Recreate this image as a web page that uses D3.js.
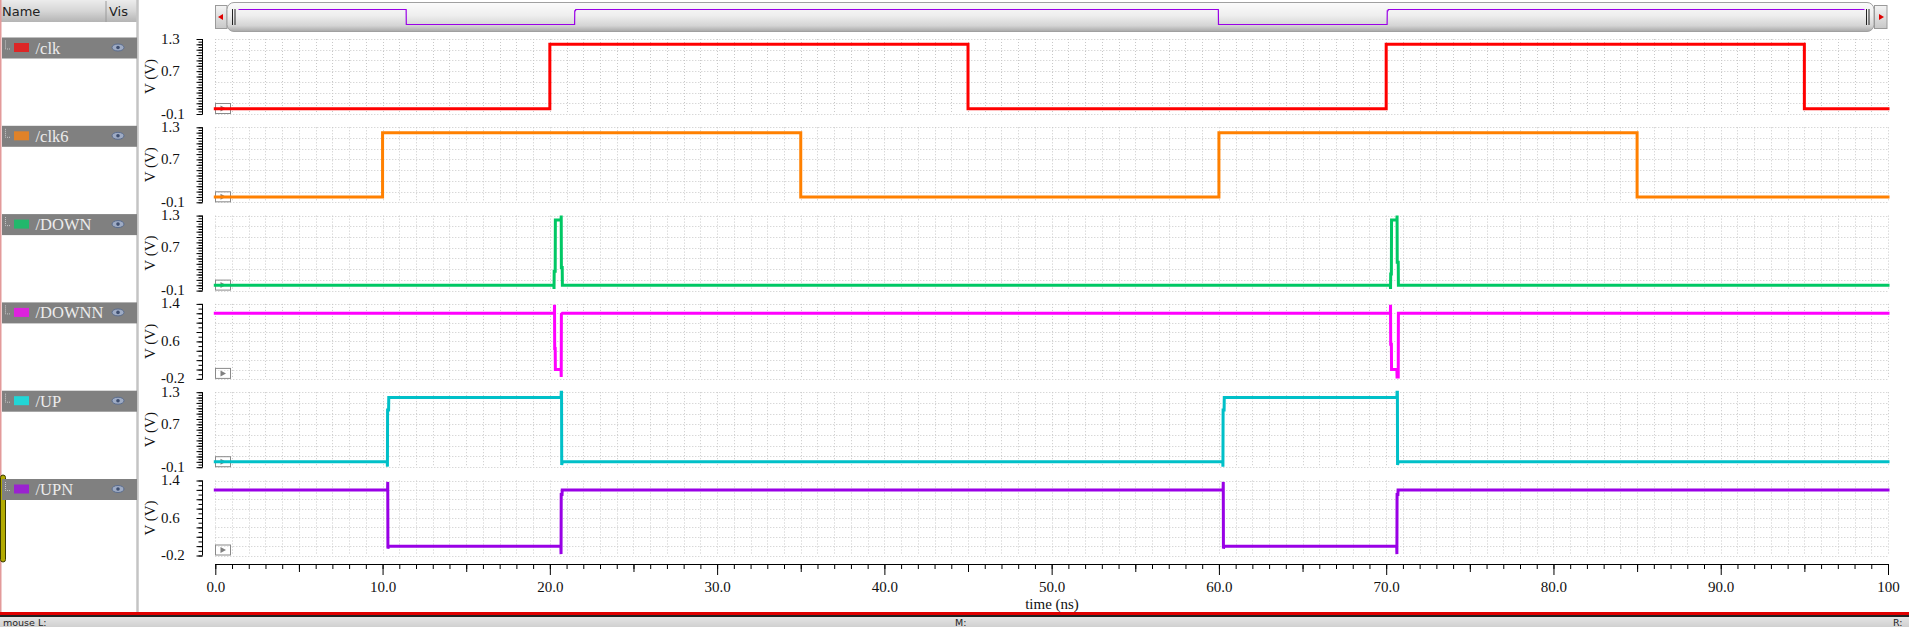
<!DOCTYPE html>
<html><head><meta charset="utf-8">
<script src="https://cdn.jsdelivr.net/npm/d3@7"></script>
<style>html,body{margin:0;padding:0;background:#fff;overflow:hidden}</style>
</head><body>
<svg id="c" width="1909" height="627"></svg>
<script>
// ---------- data ----------
const signalNames = ["/clk", "/clk6", "/DOWN", "/DOWNN", "/UP", "/UPN"];
const lineColors = ["#ff0000", "#ff8000", "#00c864", "#ff00ff", "#00c0c8", "#9900e6"];
const swatchColors = ["#dd2626", "#e08228", "#22b86c", "#dd22dd", "#22d6d6", "#9a22d0"];
const yDomains = [[-0.1, 1.3], [-0.1, 1.3], [-0.1, 1.3], [-0.2, 1.4], [-0.1, 1.3], [-0.2, 1.4]];
const yTickLabels = [[-0.1, 0.7, 1.3], [-0.1, 0.7, 1.3], [-0.1, 0.7, 1.3], [-0.2, 0.6, 1.4], [-0.1, 0.7, 1.3], [-0.2, 0.6, 1.4]];
const timeTicks = [0, 10, 20, 30, 40, 50, 60, 70, 80, 90, 100];
const timeTickLabels = ["0.0", "10.0", "20.0", "30.0", "40.0", "50.0", "60.0", "70.0", "80.0", "90.0", "100"];
const timeDomain = [0, 100];

const clk = [[0,0],[20,0],[20,1.2],[45,1.2],[45,0],[70,0],[70,1.2],[95,1.2],[95,0],[100,0]];
const clk6 = [[0,0],[10,0],[10,1.2],[35,1.2],[35,0],[60,0],[60,1.2],[85,1.2],[85,0],[100,0]];
const down = [[0,0],[20.24,0],[20.25,-0.07],[20.26,0.26],[20.32,0.26],[20.33,1.22],[20.67,1.22],[20.68,1.3],[20.69,0.33],[20.74,0.33],[20.75,0],
              [70.25,0],[70.26,-0.07],[70.27,0.21],[70.31,0.21],[70.32,1.22],[70.64,1.22],[70.65,1.3],[70.66,0.43],[70.72,0.43],[70.73,0],[100,0]];
const downn = [[0,1.2],[20.27,1.2],[20.28,1.38],[20.29,0.45],[20.32,0.45],[20.33,0],[20.67,0],[20.68,-0.16],[20.69,1.18],[20.75,1.2],
               [70.25,1.2],[70.26,1.38],[70.27,0.54],[70.31,0.54],[70.32,0],[70.64,0],[70.65,-0.16],[70.72,-0.16],[70.73,1.2],[100,1.2]];
const up = [[0,0],[10.28,0],[10.29,-0.09],[10.3,0.97],[10.36,0.97],[10.37,1.2],[20.67,1.2],[20.68,1.3],[20.7,1.3],[20.71,-0.06],[20.75,0],
            [60.23,0],[60.24,-0.09],[60.25,0.97],[60.31,0.97],[60.32,1.2],[70.64,1.2],[70.65,1.3],[70.67,1.3],[70.68,-0.06],[70.72,0],[100,0]];
const upn = [[0,1.2],[10.3,1.2],[10.31,1.37],[10.32,-0.05],[10.36,0],[20.66,0],[20.67,-0.17],[20.68,1.1],[20.73,1.1],[20.74,1.2],
             [60.25,1.2],[60.26,1.37],[60.27,-0.05],[60.31,0],[70.63,0],[70.64,-0.17],[70.65,1.1],[70.7,1.1],[70.71,1.2],[100,1.2]];
const series = [clk, clk6, down, downn, up, upn];

// ---------- layout ----------
const svg = d3.select("#c");
const W = 1909, H = 627;
const plotL = 215.3, plotR = 1888;
const panelTop0 = 39, panelPitch = 88.3, panelH = 75;
const xAxisY = 564;
const serif = "'Liberation Serif','DejaVu Serif',serif";
const sans = "'DejaVu Sans','Liberation Sans',sans-serif";

const defs = svg.append("defs");
function grad(id, stops) {
  const g = defs.append("linearGradient").attr("id", id).attr("x1", 0).attr("y1", 0).attr("x2", 0).attr("y2", 1);
  stops.forEach(([o, c]) => g.append("stop").attr("offset", o).attr("stop-color", c));
}
grad("hdr", [[0, "#ececec"], [0.5, "#d6d6d6"], [1, "#b4b4b4"]]);
grad("thumb", [[0, "#fbfbfb"], [0.45, "#eeeeee"], [0.8, "#d4d4d4"], [1, "#a8a8a8"]]);
grad("btn", [[0, "#f4f4f4"], [1, "#c8c8c8"]]);
grad("status", [[0, "#e4e4e4"], [1, "#d0d0d0"]]);

svg.append("rect").attr("width", W).attr("height", H).attr("fill", "#fff");

const x = d3.scaleLinear().domain(timeDomain).range([plotL, plotR]);

// ---------- left name panel ----------
const left = svg.append("g");
left.append("rect").attr("x", 0).attr("y", 0).attr("width", 138).attr("height", 22).attr("fill", "url(#hdr)");
left.append("line").attr("x1", 106).attr("x2", 106).attr("y1", 1).attr("y2", 22).attr("stroke", "#9a9a9a");
left.append("text").attr("x", 2).attr("y", 16).text("Name").attr("font-family", sans).attr("font-size", 13).attr("fill", "#222");
left.append("text").attr("x", 109).attr("y", 16).text("Vis").attr("font-family", sans).attr("font-size", 13).attr("fill", "#222");
left.append("line").attr("x1", 137.5).attr("x2", 137.5).attr("y1", 0).attr("y2", 612).attr("stroke", "#c4c4c4").attr("stroke-width", 2.5);
left.append("line").attr("x1", 0.75).attr("x2", 0.75).attr("y1", 0).attr("y2", 612).attr("stroke", "#e39a9a").attr("stroke-width", 1.5);
left.append("rect").attr("x", 0.5).attr("y", 475).attr("width", 5).attr("height", 87).attr("rx", 2.5)
  .attr("fill", "#b3ab00").attr("stroke", "#3a3a00").attr("stroke-width", 1);

signalNames.forEach((name, i) => {
  const ry = panelTop0 + i * panelPitch - 1.5;
  const g = left.append("g");
  g.append("rect").attr("x", 2).attr("y", ry).attr("width", 135).attr("height", 21).attr("fill", "#808080");
  g.append("path").attr("d", `M5.5,${ry + 3}V${ry + 11.5}H11`).attr("fill", "none").attr("stroke", "#c8c8c8").attr("stroke-dasharray", "1,1");
  g.append("rect").attr("x", 14).attr("y", ry + 5.5).attr("width", 15).attr("height", 9).attr("fill", swatchColors[i]);
  g.append("text").attr("x", 35.5).attr("y", ry + 16).text(name).attr("font-family", serif).attr("font-size", 16.5).attr("fill", "#ececec");
  g.append("ellipse").attr("cx", 118).attr("cy", ry + 10).attr("rx", 6).attr("ry", 3.5).attr("fill", "#9eabc4").attr("stroke", "#5b6d8e").attr("stroke-width", 1);
  g.append("circle").attr("cx", 118).attr("cy", ry + 10).attr("r", 1.8).attr("fill", "#3f4f70");
});

// ---------- overview scrollbar ----------
const sb = svg.append("g");
sb.append("rect").attr("x", 215.5).attr("y", 5.5).attr("width", 11.5).attr("height", 23).attr("fill", "url(#btn)").attr("stroke", "#9a9a9a");
sb.append("path").attr("d", "M218,17L223,14V20Z").attr("fill", "#e00000");
sb.append("rect").attr("x", 227).attr("y", 2.5).attr("width", 1647).attr("height", 29).attr("rx", 7).attr("fill", "url(#thumb)").attr("stroke", "#a0a0a0");
sb.append("rect").attr("x", 1874.5).attr("y", 5.5).attr("width", 12.5).attr("height", 23).attr("fill", "url(#btn)").attr("stroke", "#9a9a9a");
sb.append("path").attr("d", "M1884,17L1879,14V20Z").attr("fill", "#e00000");
[232.5, 235, 1866.5, 1869].forEach(gx => sb.append("line").attr("x1", gx).attr("x2", gx).attr("y1", 9).attr("y2", 25).attr("stroke", "#222").attr("stroke-width", 1));
const xo = d3.scaleLinear().domain(timeDomain).range([238.5, 1864.5]);
const yo = d3.scaleLinear().domain([0, 1.2]).range([24.5, 9.5]);
sb.append("path").datum(upn).attr("d", d3.line().x(d => xo(d[0])).y(d => yo(Math.max(0, Math.min(1.2, d[1]))))).attr("fill", "none")
  .attr("stroke", "#9900e6").attr("stroke-width", 1.2);

// ---------- panels ----------
series.forEach((data, i) => {
  const top = panelTop0 + i * panelPitch, bot = top + panelH;
  const dom = yDomains[i];
  const y = d3.scaleLinear().domain(dom).range([bot, top]);
  const g = svg.append("g");
  const range = dom[1] - dom[0];
  const step = range > 1.5 ? 0.1 : 0.05;
  const n = Math.round(range / step);
  const vals = d3.range(n + 1).map(k => +(dom[0] + k * step).toFixed(3));
  const gridStep = 0.2;
  const gvals = d3.range(Math.round(range / gridStep) + 1).map(k => +(dom[0] + k * gridStep).toFixed(3));

  // grid
  const grid = g.append("g").attr("stroke", "#c8c8c8").attr("stroke-width", 1).attr("stroke-dasharray", "1,2");
  gvals.forEach(v => grid.append("line").attr("x1", plotL).attr("x2", plotR).attr("y1", Math.round(y(v)) + 0.5).attr("y2", Math.round(y(v)) + 0.5));
  d3.range(0, 101, 1).forEach(t => grid.append("line").attr("x1", Math.round(x(t)) + 0.5).attr("x2", Math.round(x(t)) + 0.5).attr("y1", top).attr("y2", bot));

  // y axis ticks
  const minorAx = d3.axisLeft(y).tickValues(vals).tickSize(4).tickFormat("");
  const majorVals = vals.filter((v, k) => k % 2 === 0);
  const majorAx = d3.axisLeft(y).tickValues(majorVals).tickSize(6).tickFormat("");
  const ax1 = g.append("g").attr("transform", "translate(202.5,0)").call(minorAx);
  const ax2 = g.append("g").attr("transform", "translate(202.5,0)").call(majorAx);
  [ax1, ax2].forEach(a => { a.select(".domain").remove(); a.selectAll("line").attr("stroke", "#000"); });
  g.append("line").attr("x1", 202.5).attr("x2", 202.5).attr("y1", top).attr("y2", bot).attr("stroke", "#000");

  // labels
  yTickLabels[i].forEach(v => g.append("text").attr("x", 161).attr("y", y(v) - 0.5).attr("dominant-baseline", "central")
    .attr("font-family", serif).attr("font-size", 15).attr("fill", "#111").text(v.toFixed(1)));
  g.append("text").attr("transform", `translate(155,${(top + bot) / 2}) rotate(-90)`).attr("text-anchor", "middle")
    .attr("font-family", serif).attr("font-size", 15).attr("fill", "#111").text("V (V)");

  // marker box
  g.append("rect").attr("x", 215.5).attr("y", bot - 10.5).attr("width", 15).attr("height", 10).attr("fill", "#fff").attr("fill-opacity", 0.3).attr("stroke", "#8a8a8a");
  g.append("path").attr("d", `M220.5,${bot - 8.5}L226,${bot - 5.5}L220.5,${bot - 2.5}Z`).attr("fill", "#808080");

  // waveform
  const line = d3.line().x(d => x(d[0])).y(d => y(d[1]));
  g.append("path").datum(data).attr("d", line).attr("fill", "none").attr("stroke", lineColors[i])
    .attr("stroke-width", 3).attr("stroke-linejoin", "miter").attr("stroke-linecap", "square");
});

// ---------- x axis ----------
const xg = svg.append("g").attr("transform", `translate(0,${xAxisY})`);
const axMinor = d3.axisBottom(x).tickValues(d3.range(0, 101, 1)).tickSize(5).tickFormat("");
const axMid = d3.axisBottom(x).tickValues(d3.range(5, 100, 10)).tickSize(8).tickFormat("");
const axMajor = d3.axisBottom(x).tickValues(timeTicks).tickSize(11).tickPadding(6).tickFormat((d, k) => timeTickLabels[k]);
[axMinor, axMid, axMajor].forEach(a => {
  const s = xg.append("g").call(a);
  s.select(".domain").remove();
  s.selectAll("line").attr("stroke", "#000");
  s.selectAll("text").attr("font-family", serif).attr("font-size", 15).attr("fill", "#111");
});
xg.append("line").attr("x1", plotL).attr("x2", plotR).attr("y1", 0.5).attr("y2", 0.5).attr("stroke", "#000");
svg.append("text").attr("x", 1052).attr("y", 604).attr("dominant-baseline", "central").attr("text-anchor", "middle")
  .attr("font-family", serif).attr("font-size", 15).attr("fill", "#111").text("time (ns)");

// ---------- bottom status ----------
svg.append("rect").attr("x", 0).attr("y", 612).attr("width", W).attr("height", 3).attr("fill", "#e00000");
svg.append("rect").attr("x", 0).attr("y", 615).attr("width", W).attr("height", 2).attr("fill", "#222");
svg.append("rect").attr("x", 0).attr("y", 617).attr("width", W).attr("height", 10).attr("fill", "url(#status)");
const stat = svg.append("g").attr("font-family", sans).attr("font-size", 9.5).attr("fill", "#222");
stat.append("text").attr("x", 3).attr("y", 626).text("mouse L:");
stat.append("text").attr("x", 955).attr("y", 626).text("M:");
stat.append("text").attr("x", 1893).attr("y", 626).text("R:");
</script>
</body></html>
